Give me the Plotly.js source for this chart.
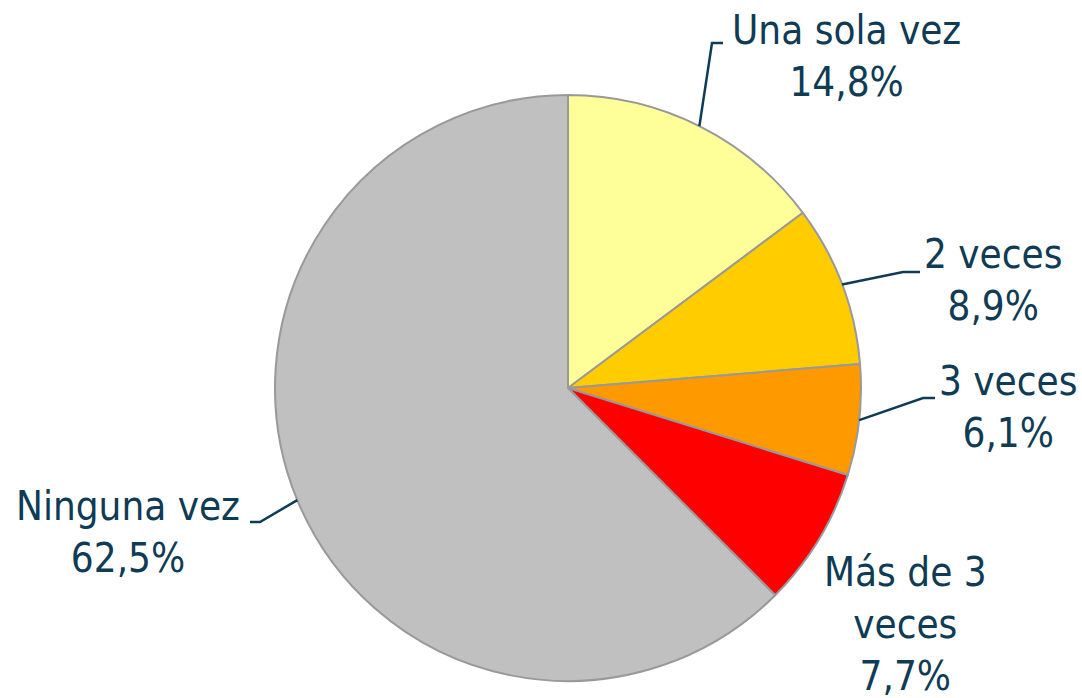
<!DOCTYPE html>
<html>
<head>
<meta charset="utf-8">
<script src="https://cdn.plot.ly/plotly-3.0.1.min.js"></script>
<style>html,body{margin:0;padding:0;background:#fff;}#chart{width:1082px;height:698px;}</style>
</head>
<body>
<div id="chart"></div>
<script>
// ---- data ----
const categories = ["Una sola vez", "2 veces", "3 veces", "Más de 3 veces", "Ninguna vez"];
const values = [14.8, 8.9, 6.1, 7.7, 62.5];
const labelTexts = ["Una sola vez<br>14,8%", "2 veces<br>8,9%", "3 veces<br>6,1%", "Más de 3<br>veces<br>7,7%", "Ninguna vez<br>62,5%"];
const colors = ["#FFFF99", "#FFCC00", "#FF9900", "#FF0000", "#C0C0C0"];

// ---- layout (pixels) ----
const W = 1082, H = 698;
const cx = 568, cy = 388, R = 293;
const textColor = "#0F3B55";
// label centres (px) and leader elbow/end points (px); null = no leader
const labelPos = [[846, 56], [993, 280], [1008, 407], [905, 624], [128, 532]];
const elbows = [[[712, 43], [723, 43]], [[903, 272], [920, 272]], [[923, 398], [935, 398]], null, [[260, 522], [250, 522]]];

const px2x = x => x / W;
const px2y = y => 1 - y / H;

const total = values.reduce((a, b) => a + b, 0);
const shapes = [];
const annotations = [];
let cum = 0;
values.forEach((v, i) => {
  const mid = (cum + v / 2) / total * 2 * Math.PI;
  cum += v;
  const sx = cx + R * Math.sin(mid), sy = cy - R * Math.cos(mid);
  if (elbows[i]) {
    const [e1, e2] = elbows[i];
    shapes.push({
      type: "path", xref: "paper", yref: "paper",
      path: `M ${px2x(sx)} ${px2y(sy)} L ${px2x(e1[0])} ${px2y(e1[1])} L ${px2x(e2[0])} ${px2y(e2[1])}`,
      line: {color: textColor, width: 2.5}
    });
  }
  annotations.push({
    xref: "paper", yref: "paper",
    x: px2x(labelPos[i][0]), y: px2y(labelPos[i][1]),
    xanchor: "center", yanchor: "middle", align: "center",
    text: labelTexts[i], showarrow: false,
    font: {family: "DejaVu Sans Condensed, DejaVu Sans, sans-serif", size: 40, color: textColor}
  });
});

const trace = {
  type: "pie",
  labels: categories,
  values: values,
  sort: false,
  direction: "clockwise",
  rotation: 0,
  textinfo: "none",
  hoverinfo: "label+percent",
  marker: {colors: colors, line: {color: "#999999", width: 2}},
  domain: {x: [(cx - R) / W, (cx + R) / W], y: [1 - (cy + R) / H, 1 - (cy - R) / H]},
  showlegend: false
};

const layout = {
  width: W, height: H,
  margin: {l: 0, r: 0, t: 0, b: 0},
  paper_bgcolor: "#fff",
  showlegend: false,
  shapes: shapes,
  annotations: annotations
};

Plotly.newPlot("chart", [trace], layout, {displayModeBar: false, staticPlot: true});
</script>
</body>
</html>
